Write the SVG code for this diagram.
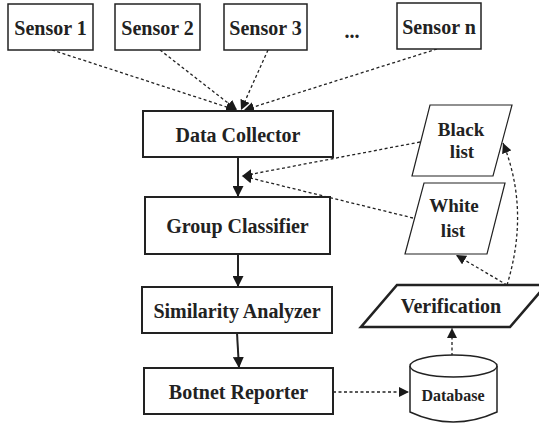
<svg xmlns="http://www.w3.org/2000/svg" width="539" height="432" viewBox="0 0 539 432">
<defs>
<marker id="ah" viewBox="0 0 10 10" refX="10" refY="5" markerWidth="10" markerHeight="10" markerUnits="userSpaceOnUse" orient="auto">
<path d="M0,0 L10,5 L0,10 z" fill="#1a1a1a"/>
</marker>
<marker id="ahs" viewBox="0 0 10 10" refX="10" refY="5" markerWidth="11" markerHeight="11" markerUnits="userSpaceOnUse" orient="auto">
<path d="M0,0 L10,5 L0,10 z" fill="#1a1a1a"/>
</marker>
</defs>
<style>
.box{fill:#fff;stroke:#222;stroke-width:2}
.sbox{fill:#fff;stroke:#222;stroke-width:1.5}
.thin{fill:#fff;stroke:#222;stroke-width:1.2}
.thick{fill:#fff;stroke:#222;stroke-width:2.6}
.t{font-family:"Liberation Serif","Times New Roman",serif;font-weight:bold;font-size:20px;fill:#222;text-anchor:middle}
.s{font-size:19px}
.dash{fill:none;stroke:#222;stroke-width:1.3;stroke-dasharray:3,2.5;marker-end:url(#ah)}
.solid{fill:none;stroke:#222;stroke-width:2;marker-end:url(#ahs)}
</style>
<rect width="539" height="432" fill="#fff"/>
<g id="connectors">
<line class="dash" x1="52" y1="50" x2="236" y2="110"/>
<line class="dash" x1="160" y1="50" x2="237" y2="110"/>
<line class="dash" x1="268" y1="50" x2="241" y2="110"/>
<line class="dash" x1="437" y1="49" x2="244" y2="110"/>
<line class="solid" x1="238" y1="157" x2="238" y2="197"/>
<line class="dash" x1="420" y1="142" x2="242" y2="176"/>
<line class="dash" x1="413" y1="218" x2="242" y2="176"/>
<line class="solid" x1="238" y1="254" x2="238" y2="287"/>
<line class="solid" x1="237" y1="333" x2="239" y2="368"/>
<line class="dash" x1="333" y1="392" x2="409" y2="392"/>
<line class="dash" x1="452" y1="356" x2="452" y2="328"/>
<line class="dash" x1="507" y1="285" x2="456" y2="255"/>
<path class="dash" d="M507,285 Q530,210 503,143"/>
</g>
<g id="sensor1"><rect class="sbox" x="8" y="4" width="85" height="46"/><text class="t" x="50.5" y="35">Sensor 1</text></g>
<g id="sensor2"><rect class="sbox" x="115" y="4" width="85" height="46"/><text class="t" x="157.5" y="35">Sensor 2</text></g>
<g id="sensor3"><rect class="sbox" x="224" y="4" width="83" height="46"/><text class="t" x="265.5" y="35">Sensor 3</text></g>
<g id="ellipsis"><text class="t" x="352" y="38">...</text></g>
<g id="sensorn"><rect class="sbox" x="397" y="3" width="84" height="46"/><text class="t" x="439" y="34">Sensor n</text></g>
<g id="datacollector"><rect class="box" x="143" y="111" width="190" height="46"/><text class="t" x="238" y="142">Data Collector</text></g>
<g id="groupclassifier"><rect class="box" x="145" y="197" width="185" height="57"/><text class="t" x="237.5" y="233">Group Classifier</text></g>
<g id="similarity"><rect class="box" x="142" y="287" width="190" height="46"/><text class="t" x="237" y="318">Similarity Analyzer</text></g>
<g id="botnet"><rect class="box" x="144" y="368" width="189" height="46"/><text class="t" x="238.5" y="399">Botnet Reporter</text></g>
<g id="blacklist"><polygon class="thin" points="430,105 512,105 493,176 412,176"/><text class="t s" x="461" y="136">Black</text><text class="t s" x="462" y="158">list</text></g>
<g id="whitelist"><polygon class="thin" points="424,183 505,183 487,254 405,254"/><text class="t s" x="454" y="212">White</text><text class="t s" x="453" y="237">list</text></g>
<g id="verification"><polygon class="thick" points="397,285 546,285 510,327 361,327"/><text class="t" x="451" y="313">Verification</text></g>
<g id="database"><path class="sbox" d="M410,366 L410,412 Q453,432 497,412 L497,366"/><ellipse class="sbox" cx="453.5" cy="366" rx="43.5" ry="11"/><text class="t" x="453" y="401" style="font-size:16px">Database</text></g>
</svg>
